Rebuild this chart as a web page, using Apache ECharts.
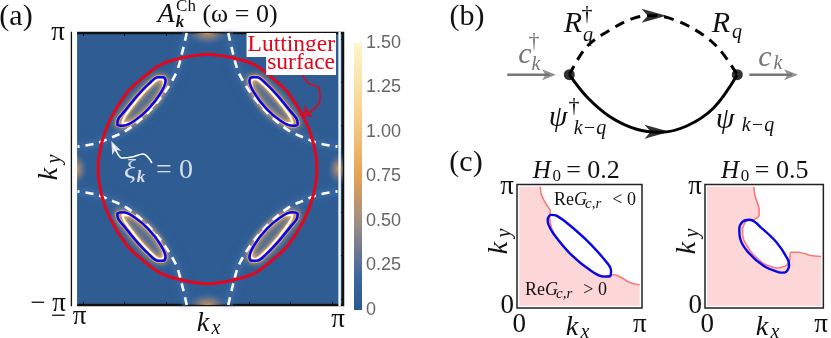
<!DOCTYPE html>
<html>
<head>
<meta charset="utf-8">
<style>html,body{margin:0;padding:0;background:#fff}#main{width:831px;height:338px}</style>
<script src="https://cdn.jsdelivr.net/npm/echarts@6/dist/echarts.min.js"></script>
</head>
<body>
<div id="main"></div>
<script>
var PI = Math.PI;
// panel (a), one quadrant each, the others are mirrored
var redQuadrant = [[0,2.65],[0.6,2.57],[1.145,2.40],[1.6,2.07],[1.95,1.75],[2.35,1.13],[2.55,0.59],[2.635,0]];
var blueLoop = [[1.72,1.66],[2.0,1.33],[2.16,1.13],[2.17,1.03],[2.03,1.0],[1.75,1.12],[1.42,1.39],[1.13,1.75],[1.01,2.04],[1.06,2.12],[1.19,2.12],[1.42,1.96],[1.72,1.66]];
var whiteLoop = [[1.72,1.56],[1.99,1.21],[2.05,1.06],[1.87,1.07],[1.58,1.24],[1.29,1.49],[1.11,1.77],[1.05,2.01],[1.14,2.08],[1.39,1.91],[1.72,1.56]];
var fermiArc = [[0.5,3.14],[0.594,2.75],[0.72,2.3],[0.824,2.085],[1.024,1.778],[1.25,1.5],[1.547,1.2],[1.947,0.894],[2.265,0.747],[2.67,0.593],[3.13,0.516]];
var blobsTop = [[0,PI],[0,-PI]];
var blobsSide = [[-PI,0],[PI,0]];
var blobTopRadius = [0.6,0.32];
var blobSideRadius = [0.28,0.42];
var edgeLeft = [[-3.2,-3.3],[-3.2,3.3]];
var edgeRight = [[3.18,-3.3],[3.18,3.3]];
var ticksA = [-3,-2,-1,0,1,2,3];
// colorbar
var barTop = [1.5];
var barStops = [[0,'#2a5a91'],[0.12,'#3e659f'],[0.33,'#a08d84'],[0.5,'#e3a253'],[0.72,'#f6cf8a'],[1,'#fff6cb']];
// panel (c)
var curve02 = [[0.548,3.141],[0.574,2.94],[0.679,2.72],[0.809,2.50],[0.792,2.33],[0.853,2.02],[1.07,1.675],[1.506,1.195],[1.941,0.873],[2.20,0.777],[2.463,0.82],[2.637,0.759],[2.855,0.628],[3.029,0.567],[3.141,0.558]];
var blue02 = [[1.332,2.112],[1.767,1.719],[2.202,1.239],[2.393,0.934],[2.376,0.785],[2.202,0.768],[1.854,0.934],[1.332,1.37],[0.896,1.894],[0.766,2.129],[0.74,2.269],[0.827,2.40],[0.983,2.373],[1.332,2.112]];
var curve05 = [[1.285,3.141],[1.319,2.897],[1.432,2.548],[1.432,2.373],[1.319,2.286],[1.085,2.243],[0.972,2.024],[0.998,1.763],[1.215,1.414],[1.563,1.108],[1.953,0.995],[2.188,1.065],[2.274,1.195],[2.30,1.414],[2.517,1.414],[2.865,1.326],[3.141,1.30]];
var blue05 = [[1.476,2.068],[1.91,1.675],[2.214,1.239],[2.257,1.065],[2.127,0.873],[1.953,0.89],[1.563,1.047],[1.128,1.414],[0.911,1.763],[0.885,2.024],[0.972,2.216],[1.172,2.269],[1.476,2.068]];
var cornersC = [[PI,0],[0,0],[0,PI]];
// panel (b) and the curly arrows, in picture units of the overlay axes
var dashedArc = [[569.3,74.7],[586.7,46.7],[610,30],[633.3,18.3],[653.3,15.7],[676.7,20.7],[703.3,35],[720,50],[737.3,74.7]];
var solidArc = [[569.3,74.7],[586.7,96.7],[610,116.7],[636.7,129.3],[660,132.3],[686.7,126],[713.3,108.3],[737.3,74.7]];
var vertices = [[569.3,74.7],[737.3,74.7]];
var blackHeads = [[654,15.7],[657,131.7]];
var grayIn = [[507.3,74.7],[550,74.7]];
var grayOut = [[749.3,74.7],[792,74.7]];
var grayHeads = [[549,74.7],[791,74.7]];
var curlRed = [[302,74],[308,83],[319,88],[320,100],[313,110],[306,115]];
var curlWhite = [[152,163],[143,154],[132,157],[122,158],[115,149],[113,144]];

function mirror(pts, sx, sy) {
  return pts.map(function(p) { return [p[0]*sx, p[1]*sy]; });
}
var redLoop = redQuadrant
  .concat(mirror(redQuadrant, 1, -1).reverse().slice(1))
  .concat(mirror(redQuadrant, -1, -1).slice(1))
  .concat(mirror(redQuadrant, -1, 1).reverse().slice(1));

var quads = [[1,1],[-1,1],[-1,-1],[1,-1]];
var series = [];

function line(data, color, width, opts) {
  opts = opts || {};
  series.push({
    type: 'line', data: data, xAxisIndex: opts.axis || 0, yAxisIndex: opts.axis || 0,
    symbol: 'none', smooth: opts.smooth === undefined ? 0.35 : opts.smooth, silent: true, z: opts.z || 3,
    lineStyle: {color: color, width: width, type: opts.dash || 'solid', opacity: opts.opacity === undefined ? 1 : opts.opacity,
      shadowBlur: opts.blur || 0, shadowColor: opts.shadow || 'transparent'}
  });
}
function heads(data, color, size, rotate, axis, path) {
  series.push({type: 'scatter', data: data, xAxisIndex: axis, yAxisIndex: axis, symbol: path || 'triangle',
    symbolSize: size, symbolRotate: rotate, silent: true, z: 6, itemStyle: {color: color}});
}
// soft spots at the zone edges, clipped by the frame
function blob(data, radius) {
  series.push({type: 'custom', coordinateSystem: 'cartesian2d', data: data, clip: true, silent: true, z: 2,
    renderItem: function(p, api) {
      var c = api.coord([api.value(0), api.value(1)]);
      var s = api.size(radius);
      return {type: 'circle', x: c[0], y: c[1], scaleX: s[0], scaleY: s[1], shape: {cx: 0, cy: 0, r: 1},
        style: {fill: {type: 'radial', x: 0.5, y: 0.5, r: 0.5, colorStops: [
          {offset: 0, color: 'rgba(196,152,104,1)'}, {offset: 0.45, color: 'rgba(150,130,120,0.6)'},
          {offset: 0.75, color: 'rgba(70,110,160,0.35)'}, {offset: 1, color: 'rgba(46,92,147,0)'}]}}};
    }});
}
function region(points, axis, fill, z) {
  series.push({type: 'custom', coordinateSystem: 'cartesian2d', xAxisIndex: axis, yAxisIndex: axis, data: [[0,0]], clip: true, silent: true, z: z || 1,
    renderItem: function(p, api) {
      return {type: 'polygon', shape: {smooth: z ? 0.3 : 0, points: points.map(function(q) { return api.coord(q); })}, style: {fill: fill}};
    }});
}

// panel (a)
blob(blobsTop, blobTopRadius);
blob(blobsSide, blobSideRadius);
quads.forEach(function(q) {
  var ring = mirror(whiteLoop, q[0], q[1]);
  line(mirror(fermiArc, q[0], q[1]), '#3f6ba3', 9, {blur: 10, shadow: '#3f6ba3', z: 2, opacity: 0.45});
  line(mirror(blueLoop, q[0], q[1]), '#eeae5e', 4, {blur: 6, shadow: '#f2b566', z: 2});
  region(ring, 0, 'rgba(118,124,146,0.5)', 2);
  line(ring, '#eeae5e', 3, {blur: 4, shadow: '#f2b566', z: 2});
  line(ring, '#fffbef', 2, {z: 2});
  line(mirror(fermiArc, q[0], q[1]), '#fff', 2.6, {dash: [8,6], z: 3});
  line(mirror(blueLoop, q[0], q[1]), '#0808e6', 2.6, {z: 4});
});
line(redLoop, '#e3061c', 3, {z: 5});
line(edgeLeft, '#fff', 5, {smooth: false, z: 3});
line(edgeRight, '#fff', 2.4, {smooth: false, z: 3});

// colorbar
series.push({type: 'bar', data: barTop, xAxisIndex: 2, yAxisIndex: 2, barWidth: '100%', silent: true,
  itemStyle: {color: {type: 'linear', x: 0, y: 1, x2: 0, y2: 0,
    colorStops: barStops.map(function(s) { return {offset: s[0], color: s[1]}; })}}});

// panel (c)
region(curve02.concat(cornersC), 3, '#fdd6d8');
line(curve02, '#fa7a7c', 1.6, {axis: 3, smooth: 0.2});
line(blue02, '#0808e6', 2.4, {axis: 3});
region(curve05.concat(cornersC), 4, '#fdd6d8');
line(curve05, '#fa7a7c', 1.6, {axis: 4, smooth: 0.2});
line(blue05, '#0808e6', 2.4, {axis: 4});

// panel (b) and curly arrows on the overlay
var notch = 'path://M0,-10 L8,10 L0,5 L-8,10 Z';
line(dashedArc, '#000', 3, {axis: 5, dash: [10,7]});
line(solidArc, '#000', 3, {axis: 5});
line(grayIn, '#777', 2.4, {axis: 5, smooth: false});
line(grayOut, '#777', 2.4, {axis: 5, smooth: false});
line(curlRed, '#e3061c', 1.6, {axis: 5});
line(curlWhite, '#fff', 1.6, {axis: 5});
series.push({type: 'scatter', data: vertices, xAxisIndex: 5, yAxisIndex: 5, symbolSize: 11, silent: true, z: 6, itemStyle: {color: '#000'}});
heads(blackHeads, '#000', [14,25], -90, 5, notch);
heads(grayHeads, '#777', [11,14], -90, 5, notch);
heads([[307,113.5]], '#e3061c', [12,14], -125, 5, notch);
heads([[114,147]], '#fff', [10,13], 25, 5, notch);

// text helper, everything math-like is serif
function t(x, y, str, size, o) {
  o = o || {};
  return {type: 'text', x: x, y: y, z: 20, rotation: o.rot || 0, silent: true, style: {
    text: str, fontFamily: 'Liberation Serif', fontSize: size, fontStyle: o.it ? 'italic' : 'normal', fontWeight: o.b ? 'bold' : 'normal',
    fill: o.c || '#111', align: o.a || 'center', verticalAlign: 'middle',
    backgroundColor: o.bg, padding: o.pad
  }};
}
function kLabel(x, y, sub) {
  return [t(x-5, y, 'k', 28, {it: 1}), t(x+8, y+5, sub, 20, {it: 1})];
}
function kyRot(x, y) {
  var r = PI/2;
  return [t(x, y+6, 'k', 28, {it: 1, rot: r}), t(x+5, y-9, 'y', 20, {it: 1, rot: r})];
}
var red = '#e3061c', gray = '#777', pale = '#d8dee8';
function reG(x, y, tail) {
  return [t(x, y, 'Re', 18, {a: 'left'}), t(x+20, y, 'G', 18, {it: 1, a: 'left'}), t(x+31, y+4, 'c,r', 15, {it: 1, a: 'left'}), t(x+82, y, tail, 18, {a: 'right'})];
}
var texts = [
  t(16, 17, '(a)', 30), t(467, 17, '(b)', 30), t(466, 163, '(c)', 30),
  // tick label with a wide minus
  t(68.5, 317, '− π', 27), t(48, 304, '− π', 27),
  // title of (a)
  t(166, 15, 'A', 28, {it: 1}), t(186, 7, 'Ch', 17), t(180, 23, 'k', 17, {it: 1, b: 1}), t(240, 15, '(ω = 0)', 26),
  // luttinger box
  t(336, 45, 'Luttinger', 23.5, {a: 'right', c: red, bg: '#fff', pad: [0,1,0,1]}),
  t(336, 63, 'surface', 23.5, {a: 'right', c: red, bg: '#fff', pad: [0,1,0,1]}),
  // xi label
  t(130, 171, 'ξ', 28, {it: 1, c: pale}), t(141, 178, 'k', 17, {it: 1, b: 1, c: pale}), t(174.5, 171, '= 0', 28, {c: pale}),
  // panel (b)
  t(573, 24, 'R', 30, {it: 1}), t(587, 14, '†', 22), t(588, 36, 'q', 20, {it: 1}),
  t(721, 24, 'R', 30, {it: 1}), t(737, 33, 'q', 20, {it: 1}),
  t(525, 55, 'c', 30, {it: 1, c: gray}), t(534, 41, '†', 22, {c: gray}), t(536, 65, 'k', 20, {it: 1, c: gray}),
  t(765, 58, 'c', 30, {it: 1, c: gray}), t(778, 64, 'k', 20, {it: 1, c: gray}),
  t(558, 118, 'ψ', 30, {it: 1}), t(574, 106, '†', 22), t(590, 129, 'k−q', 20, {it: 1}),
  t(725, 120, 'ψ', 30, {it: 1}), t(758, 126, 'k−q', 20, {it: 1}),
  // panel (c)
  t(541.7, 171, 'H', 25, {it: 1}), t(556.7, 177, '0', 17), t(593, 171, '= 0.2', 26),
  t(730, 171, 'H', 25, {it: 1}), t(745, 177, '0', 17), t(781.7, 171, '= 0.5', 26)
].concat(reG(554, 200, '< 0'), reG(525, 290, '> 0'),
  kLabel(208, 324, 'x'), kyRot(50, 168), kLabel(577, 328, 'x'), kyRot(500, 242), kLabel(767, 328, 'x'), kyRot(688, 242));

var serif = {fontFamily: 'Liberation Serif', fontSize: 27, color: '#111'};
var A_X = 3.262, C_PAD = 0.06;

function frameX(g, top) {
  return {type: 'value', gridIndex: g, min: -A_X, max: A_X, position: top ? 'top' : 'bottom', splitLine: {show: false},
    axisLine: {show: false, onZero: false}, axisTick: {show: true, inside: true, length: 3, customValues: ticksA, lineStyle: {color: '#111'}},
    axisLabel: top ? {show: false} : Object.assign({show: true, customValues: [PI], margin: 1, formatter: function() { return 'π'; }}, serif)};
}
function frameY(g, right) {
  return {type: 'value', gridIndex: g, min: -PI, max: PI, position: right ? 'right' : 'left', splitLine: {show: false},
    axisLine: {show: false, onZero: false}, axisTick: {show: true, inside: true, length: 3, customValues: ticksA, lineStyle: {color: '#111'}},
    axisLabel: right ? {show: false} : Object.assign({show: true, customValues: [PI], margin: 7, formatter: function() { return 'π'; }}, serif)};
}
function axisC(g) {
  return {type: 'value', gridIndex: g, min: -C_PAD, max: PI + C_PAD, splitLine: {show: false}, axisLine: {show: false, onZero: false}, axisTick: {show: false},
    axisLabel: Object.assign({customValues: [0, PI], margin: 3, formatter: function(v) { return v < 1 ? '0' : 'π'; }}, serif)};
}

var ec = echarts.init(document.getElementById('main'), null, {renderer: 'canvas'});
ec.setOption({
  animation: false,
  grid: [
    {left: 72, top: 33, width: 271, height: 272, show: true, backgroundColor: '#2e5c93', borderColor: '#111', borderWidth: 2.5},
    {left: 72, top: 33, width: 271, height: 272, show: false},
    {left: 354, top: 43, width: 8, height: 267, show: false},
    {left: 517, top: 184.5, width: 125, height: 125.5, show: true, backgroundColor: '#fff', borderColor: '#222', borderWidth: 1.5},
    {left: 705, top: 184.5, width: 125, height: 125.5, show: true, backgroundColor: '#fff', borderColor: '#222', borderWidth: 1.5},
    {left: 0, top: 0, width: 831, height: 338, show: false}
  ],
  xAxis: [
    frameX(0, false), frameX(1, true),
    {type: 'category', gridIndex: 2, data: ['bar'], show: false},
    axisC(3), axisC(4),
    {type: 'value', gridIndex: 5, min: 0, max: 831, show: false}
  ],
  yAxis: [
    frameY(0, false), frameY(1, true),
    {type: 'value', gridIndex: 2, min: 0, max: 1.5, interval: 0.25, position: 'right', splitLine: {show: false}, axisLine: {show: false}, axisTick: {show: false},
      axisLabel: {margin: 4, color: '#666', fontSize: 18, fontFamily: 'Liberation Sans', formatter: function(v) { return v === 0 ? '0' : v.toFixed(2); }}},
    axisC(3), axisC(4),
    {type: 'value', gridIndex: 5, min: 0, max: 338, inverse: true, show: false}
  ],
  series: series,
  graphic: texts
});
</script>
</body>
</html>
